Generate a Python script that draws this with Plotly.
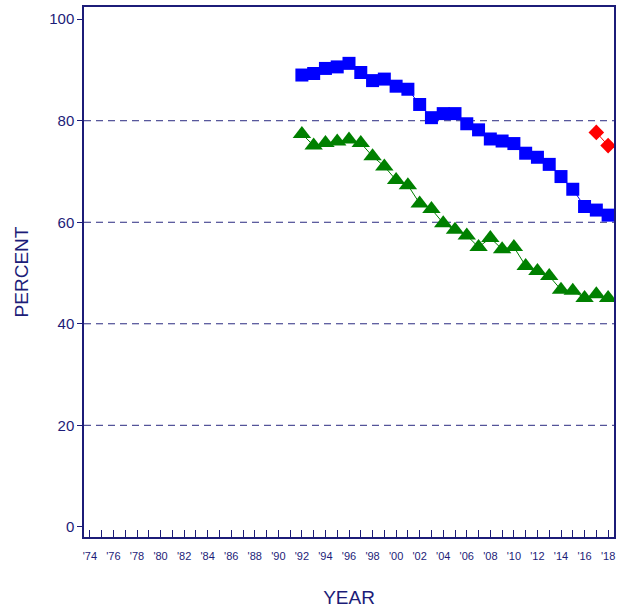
import plotly.graph_objects as go

years = list(range(1992, 2019))
blue_vals = [89.0, 89.3, 90.3, 90.6, 91.3, 89.5, 87.9, 88.2, 86.8, 86.2, 83.2, 80.6, 81.4,
             81.4, 79.4, 78.2, 76.4, 76.0, 75.5, 73.6, 72.8, 71.4, 69.0, 66.5, 63.1, 62.4, 61.4]
green_vals = [77.4, 75.1, 75.6, 75.9, 76.3, 75.6, 73.0, 71.0, 68.3, 67.3, 63.7, 62.6, 59.8,
              58.5, 57.4, 55.1, 56.9, 54.7, 55.1, 51.4, 50.4, 49.4, 46.7, 46.5, 45.1, 45.8, 45.1]
red_years = [2017, 2018]
red_vals = [77.7, 75.1]

tick_years = list(range(1974, 2019))
tick_text = ["'" + str(y)[2:] if y % 2 == 0 else "" for y in tick_years]
y_ticks = [0, 20, 40, 60, 80, 100]
grid_levels = [20, 40, 60, 80]

navy = "#1c1c78"

fig = go.Figure()
fig.add_trace(go.Scatter(x=years, y=blue_vals, mode="lines+markers",
                         line=dict(color="#0000ff", width=1),
                         marker=dict(symbol="square", size=13, color="#0000ff")))
fig.add_trace(go.Scatter(x=years, y=green_vals, mode="lines+markers",
                         line=dict(color="#008000", width=1),
                         marker=dict(symbol="triangle-up", size=16, color="#008000")))
fig.add_trace(go.Scatter(x=red_years, y=red_vals, mode="lines+markers",
                         line=dict(color="#ff0000", width=1),
                         marker=dict(symbol="diamond", size=12, color="#ff0000")))

for g in grid_levels:
    fig.add_shape(type="line", xref="paper", x0=0, x1=1, yref="y", y0=g, y1=g,
                  line=dict(color="#2a2a80", width=1, dash="7px,5px"), layer="below")

fig.update_layout(
    width=626, height=610,
    margin=dict(l=84, r=12, t=7, b=73),
    paper_bgcolor="white", plot_bgcolor="white",
    showlegend=False,
    font=dict(family="Arial, Liberation Sans, sans-serif", color=navy),
)
fig.update_xaxes(
    range=[1973.5, 2018.5], automargin=False,
    tickvals=tick_years, ticktext=tick_text,
    ticks="inside", ticklen=7, tickcolor=navy, tickwidth=1,
    showline=True, linecolor=navy, linewidth=1.5, mirror=True,
    showgrid=False, zeroline=False,
    tickfont=dict(size=11, color=navy), tickangle=0,
    ticklabelstandoff=8,
    title=dict(text="YEAR", font=dict(size=19, color=navy), standoff=30),
)
fig.update_yaxes(
    range=[-2, 102.4], automargin=False,
    tickvals=y_ticks,
    ticks="outside", ticklen=5, tickcolor=navy, tickwidth=1,
    showline=True, linecolor=navy, linewidth=1.5, mirror=True,
    showgrid=False, zeroline=False,
    tickfont=dict(size=15, color=navy),
    title=dict(text="PERCENT", font=dict(size=19, color=navy), standoff=16),
)

fig.write_html("out.html", config={"displayModeBar": False},
               post_script="document.body.style.margin='0';")
